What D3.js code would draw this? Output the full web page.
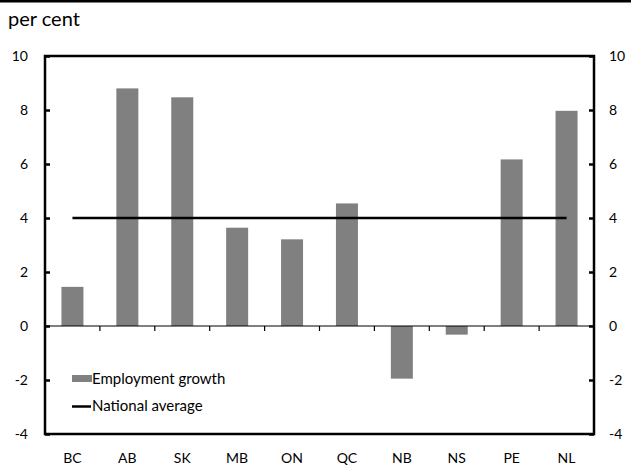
<!DOCTYPE html>
<html>
<head>
<meta charset="utf-8">
<script src="https://cdn.jsdelivr.net/npm/d3@7"></script>
<style>
body{margin:0;background:#fff;}
svg{display:block;font-family:Lato,"Open Sans",sans-serif;}
</style>
</head>
<body>
<svg id="chart" width="631" height="466"></svg>
<script>
const categories = ["BC","AB","SK","MB","ON","QC","NB","NS","PE","NL"];
const employmentGrowth = [1.45, 8.8, 8.47, 3.64, 3.21, 4.54, -1.95, -0.32, 6.17, 7.97];
const nationalAverage = [4.0, 4.0, 4.0, 4.0, 4.0, 4.0, 4.0, 4.0, 4.0, 4.0];
const yTicks = [-4, -2, 0, 2, 4, 6, 8, 10];
const seriesNames = ["Employment growth", "National average"];
const unitLabel = "per cent";

const svg = d3.select("#chart");
const pLeft = 45, pRight = 594, pTop = 56, pBottom = 434;

const xb = d3.scaleBand().domain(categories).range([pLeft, pRight]);
const y = d3.scaleLinear().domain([-4, 10]).range([pBottom, pTop]);

// top rule
svg.append("line").attr("x1",0).attr("x2",631).attr("y1",1.2).attr("y2",1.2)
  .attr("stroke","#000").attr("stroke-width",2.5);
svg.append("text").attr("x",8).attr("y",26).attr("font-size",20).attr("fill","#000").text(unitLabel);

// bars
svg.append("g").selectAll("rect").data(categories).join("rect")
  .attr("x", d => xb(d) + xb.bandwidth()/2 - 11)
  .attr("width", 22)
  .attr("y", (d,i) => y(Math.max(0, employmentGrowth[i])))
  .attr("height", (d,i) => Math.abs(y(employmentGrowth[i]) - y(0)))
  .attr("fill", "#808080");

// zero axis with category ticks
const xAxis = d3.axisBottom(xb).tickSize(5).tickFormat("");
const gx = svg.append("g").attr("transform", `translate(0,${y(0)})`).call(xAxis);
gx.select(".domain").remove();
gx.selectAll(".tick").attr("transform", d => `translate(${xb(d)},0)`);
gx.append("g").attr("class","tick").attr("transform",`translate(${pRight},0)`)
  .append("line").attr("y2",5);
svg.append("line").attr("x1",pLeft).attr("x2",pRight).attr("y1",y(0)).attr("y2",y(0))
  .attr("stroke","#000").attr("stroke-width",1.2);
gx.selectAll("line").attr("stroke","#000").attr("stroke-width",1.2);

// national average line
const line = d3.line().x(d => xb(d) + xb.bandwidth()/2).y((d,i) => y(nationalAverage[i]));
svg.append("path").datum(categories).attr("d", line)
  .attr("fill","none").attr("stroke","#000").attr("stroke-width",2.5);

// frame
svg.append("rect").attr("x",pLeft).attr("y",pTop).attr("width",pRight-pLeft).attr("height",pBottom-pTop)
  .attr("fill","none").attr("stroke","#000").attr("stroke-width",2.5);

// y axes
const yl = svg.append("g").attr("transform",`translate(${pLeft},0)`)
  .call(d3.axisRight(y).tickValues(yTicks).tickSize(5).tickFormat(""));
yl.select(".domain").remove();
yl.selectAll("line").attr("stroke","#000").attr("stroke-width",2.5);
const yr = svg.append("g").attr("transform",`translate(${pRight},0)`)
  .call(d3.axisLeft(y).tickValues(yTicks).tickSize(5).tickFormat(""));
yr.select(".domain").remove();
yr.selectAll("line").attr("stroke","#000").attr("stroke-width",2.5);

// y labels
svg.append("g").selectAll("text").data(yTicks).join("text")
  .attr("x", 28).attr("y", d => y(d) + 5).attr("text-anchor","end")
  .attr("font-size",14).attr("fill","#000").text(d => d);
svg.append("g").selectAll("text").data(yTicks).join("text")
  .attr("x", 609).attr("y", d => y(d) + 5).attr("text-anchor","start")
  .attr("font-size",14).attr("fill","#000").text(d => d);

// x labels
svg.append("g").selectAll("text").data(categories).join("text")
  .attr("x", d => xb(d) + xb.bandwidth()/2).attr("y", 463).attr("text-anchor","middle")
  .attr("font-size",14).attr("fill","#000").text(d => d);

// legend
const lg = svg.append("g");
lg.append("rect").attr("x",72).attr("y",375).attr("width",20).attr("height",7).attr("fill","#808080");
lg.append("text").attr("x",92).attr("y",384).attr("font-size",15).attr("fill","#000").text(seriesNames[0]);
lg.append("line").attr("x1",72).attr("x2",91).attr("y1",406.5).attr("y2",406.5).attr("stroke","#000").attr("stroke-width",2.5);
lg.append("text").attr("x",92).attr("y",411).attr("font-size",15).attr("fill","#000").text(seriesNames[1]);
</script>
</body>
</html>
